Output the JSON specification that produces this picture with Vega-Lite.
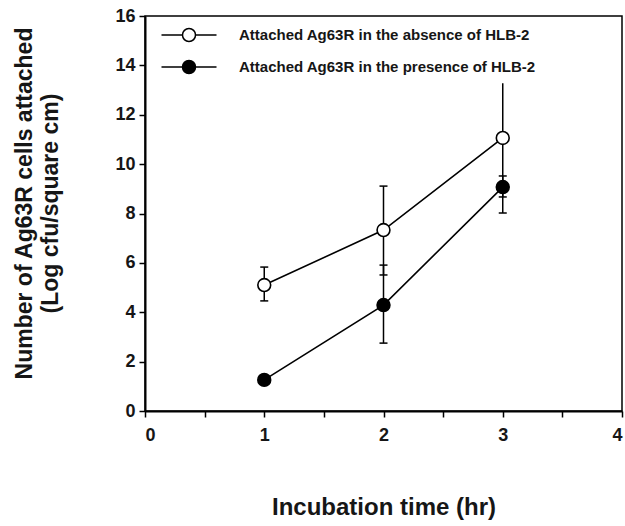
{
  "$schema": "https://vega.github.io/schema/vega-lite/v6.json",
  "width": 477,
  "height": 395,
  "autosize": {"type": "none"},
  "padding": {"left": 145, "top": 16, "right": 3, "bottom": 115},
  "background": "white",
  "config": {
    "font": "Liberation Sans",
    "view": {"stroke": "black", "strokeWidth": 1.5},
    "axis": {
      "grid": false,
      "domainColor": "black",
      "domainWidth": 2,
      "tickColor": "black",
      "tickWidth": 1.5,
      "tickSize": 6,
      "labelFont": "Liberation Sans",
      "labelFontSize": 18,
      "labelFontWeight": "bold",
      "labelColor": "#161616",
      "titleFont": "Liberation Sans",
      "titleFontSize": 23,
      "titleFontWeight": "bold",
      "titleColor": "#161616"
    }
  },
  "datasets": {
    "points": [
      {"series": "Attached Ag63R in the absence of HLB-2", "time": 1, "value": 5.10, "lo": 4.46, "hi": 5.83},
      {"series": "Attached Ag63R in the absence of HLB-2", "time": 2, "value": 7.33, "lo": 5.51, "hi": 9.11},
      {"series": "Attached Ag63R in the absence of HLB-2", "time": 3, "value": 11.06, "lo": 8.67, "hi": 13.28},
      {"series": "Attached Ag63R in the presence of HLB-2", "time": 1, "value": 1.26, "lo": 1.26, "hi": 1.26},
      {"series": "Attached Ag63R in the presence of HLB-2", "time": 2, "value": 4.29, "lo": 2.75, "hi": 5.91},
      {"series": "Attached Ag63R in the presence of HLB-2", "time": 3, "value": 9.07, "lo": 8.02, "hi": 9.52}
    ],
    "caps": [
      {"series": "Attached Ag63R in the absence of HLB-2", "time": 1, "cap": 4.46},
      {"series": "Attached Ag63R in the absence of HLB-2", "time": 1, "cap": 5.83},
      {"series": "Attached Ag63R in the absence of HLB-2", "time": 2, "cap": 5.51},
      {"series": "Attached Ag63R in the absence of HLB-2", "time": 2, "cap": 9.11},
      {"series": "Attached Ag63R in the absence of HLB-2", "time": 3, "cap": 8.67},
      {"series": "Attached Ag63R in the presence of HLB-2", "time": 2, "cap": 2.75},
      {"series": "Attached Ag63R in the presence of HLB-2", "time": 2, "cap": 5.91},
      {"series": "Attached Ag63R in the presence of HLB-2", "time": 3, "cap": 8.02},
      {"series": "Attached Ag63R in the presence of HLB-2", "time": 3, "cap": 9.52}
    ]
  },
  "layer": [
    {
      "data": {"name": "points"},
      "mark": {"type": "rule", "color": "black", "strokeWidth": 1.5},
      "encoding": {
        "x": {"field": "time", "type": "quantitative", "scale": {"domain": [0, 4], "nice": false},
          "axis": {
            "values": [0, 0.5, 1, 1.5, 2, 2.5, 3, 3.5, 4],
            "labelExpr": "datum.value % 1 == 0 ? format(datum.value, 'd') : ''",
            "labelPadding": 9,
            "title": "Incubation time (hr)",
            "titleFontSize": 24,
            "titleBaseline": "alphabetic",
            "titleY": 103
          }
        },
        "y": {"field": "lo", "type": "quantitative", "scale": {"domain": [0, 16], "nice": false},
          "axis": {
            "values": [0, 1, 2, 3, 4, 5, 6, 7, 8, 9, 10, 11, 12, 13, 14, 15, 16],
            "labelExpr": "datum.value % 2 == 0 ? format(datum.value, 'd') : ''",
            "labelPadding": 4,
            "title": ["Number of Ag63R cells attached", "(Log cfu/square cm)"],
            "titleLineHeight": 26,
            "titleBaseline": "middle",
            "titleX": -121,
            "titleY": 187
          }
        },
        "y2": {"field": "hi"}
      }
    },
    {
      "data": {"name": "caps"},
      "mark": {"type": "point", "shape": "stroke", "size": 64, "stroke": "black", "strokeWidth": 1.5, "opacity": 1},
      "encoding": {
        "x": {"field": "time", "type": "quantitative"},
        "y": {"field": "cap", "type": "quantitative"}
      }
    },
    {
      "data": {"name": "points"},
      "mark": {"type": "line", "color": "black", "strokeWidth": 1.6},
      "encoding": {
        "x": {"field": "time", "type": "quantitative"},
        "y": {"field": "value", "type": "quantitative"},
        "detail": {"field": "series"}
      }
    },
    {
      "data": {"name": "points"},
      "mark": {"type": "point", "shape": "circle", "filled": true, "size": 165, "stroke": "black", "strokeWidth": 1.6, "opacity": 1},
      "encoding": {
        "x": {"field": "time", "type": "quantitative"},
        "y": {"field": "value", "type": "quantitative"},
        "fill": {
          "field": "series",
          "type": "nominal",
          "scale": {
            "domain": ["Attached Ag63R in the absence of HLB-2", "Attached Ag63R in the presence of HLB-2"],
            "range": ["white", "black"]
          },
          "legend": {
            "orient": "none",
            "legendX": 36,
            "legendY": 11,
            "title": null,
            "padding": 0,
            "symbolType": "M-3.93 0H-0.93M0.93 0A0.93 0.93 0 1 1 -0.93 0A0.93 0.93 0 1 1 0.93 0M0.93 0H3.93",
            "symbolSize": 196,
            "symbolStrokeColor": "black",
            "symbolStrokeWidth": 1.5,
            "labelOffset": 42,
            "labelFont": "Liberation Sans",
            "labelFontSize": 15,
            "labelFontWeight": "bold",
            "labelColor": "#161616",
            "labelLimit": 500,
            "rowPadding": 12,
            "encode": {
              "symbols": {
                "update": {
                  "stroke": {"value": "black"},
                  "strokeWidth": {"value": 1.5},
                  "opacity": {"value": 1}
                }
              }
            }
          }
        }
      }
    }
  ]
}
